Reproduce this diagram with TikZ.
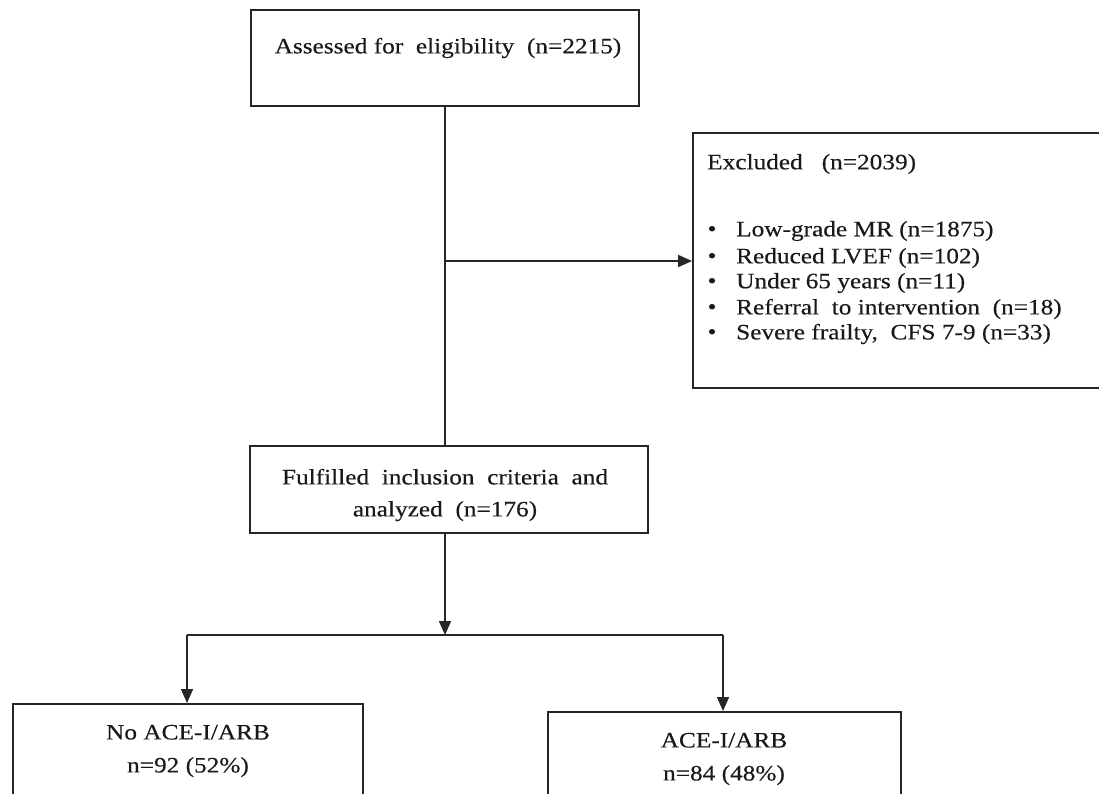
\documentclass[tikz,border=0pt]{standalone}
\usepackage{fontspec}
\setmainfont{Liberation Serif}[FakeStretch=1.15,FakeBold=0.3]
\usetikzlibrary{arrows.meta}
\begin{document}
\begin{tikzpicture}[x=1pt,y=-1pt,
  box/.style={draw=black!85, line width=1.8pt, inner sep=0pt},
  txt/.style={font=\fontsize{22pt}{25pt}\selectfont, inner sep=0pt, text=black!90},
  conn/.style={draw=black!85, line width=1.6pt},
  arr/.style={conn, -{Triangle[length=14pt,width=12pt]}}]
\useasboundingbox (0,0) rectangle (1099,793);
\begin{scope}
\clip (0,0) rectangle (1099,793);
% boxes
\node[box, minimum width=388pt, minimum height=96pt] (assess) at (445,58) {};
\node[txt] (assessT) at (448,48) {Assessed for\ \ eligibility\ \ (n=2215)};

\node[box, minimum width=417pt, minimum height=255pt] (excl) at (901.5,260.5) {};
\node[txt, anchor=west] (exT) at (707,164) {Excluded\ \ \ (n=2039)};
\foreach \i/\y/\t in {1/231/{Low-grade MR (n=1875)},
                       2/258/{Reduced LVEF\ (n=102)},
                       3/283/{Under\ 65 years (n=11)},
                       4/309/{Referral\ \ to intervention\ \ (n=18)},
                       5/334/{Severe frailty,\ \ CFS 7-9 (n=33)}} {
  \node[txt] (b\i) at (712,\y) {•};
  \node[txt, anchor=west] (e\i) at (736,\y) {\t};
}

\node[box, minimum width=398pt, minimum height=87pt] (ful) at (449,489.5) {};
\node[txt, align=center] (fulT) at (445,495) {Fulfilled\ \ inclusion\ \ criteria\ \ and\\[7pt]analyzed\ \ (n=176)};

\node[box, minimum width=350pt, minimum height=130pt, anchor=north] (noace) at (188,703) {};
\node[txt, align=center] (noT) at (188,751) {No ACE-I/ARB\\[8pt]n=92 (52\%)};

\node[box, minimum width=353pt, minimum height=130pt, anchor=north] (ace) at (724.5,711) {};
\node[txt, align=center] (aceT) at (724,759) {ACE-I/ARB\\[8pt]n=84 (48\%)};

% connectors
\coordinate (j1) at (445,261);
\coordinate (j2) at (445,635);
\coordinate (jl) at (187,635);
\coordinate (jr) at (723,635);
\draw[conn] (assess.south) -- (ful.north -| assess.south);
\draw[arr] (j1) -- (excl.west |- j1);
\draw[arr] (ful.south -| j2) -- (j2);
\draw[conn] (jl) -- (jr);
\draw[arr] (jl) -- (noace.north -| jl);
\draw[arr] (jr) -- (ace.north -| jr);
\end{scope}
\end{tikzpicture}
\end{document}
